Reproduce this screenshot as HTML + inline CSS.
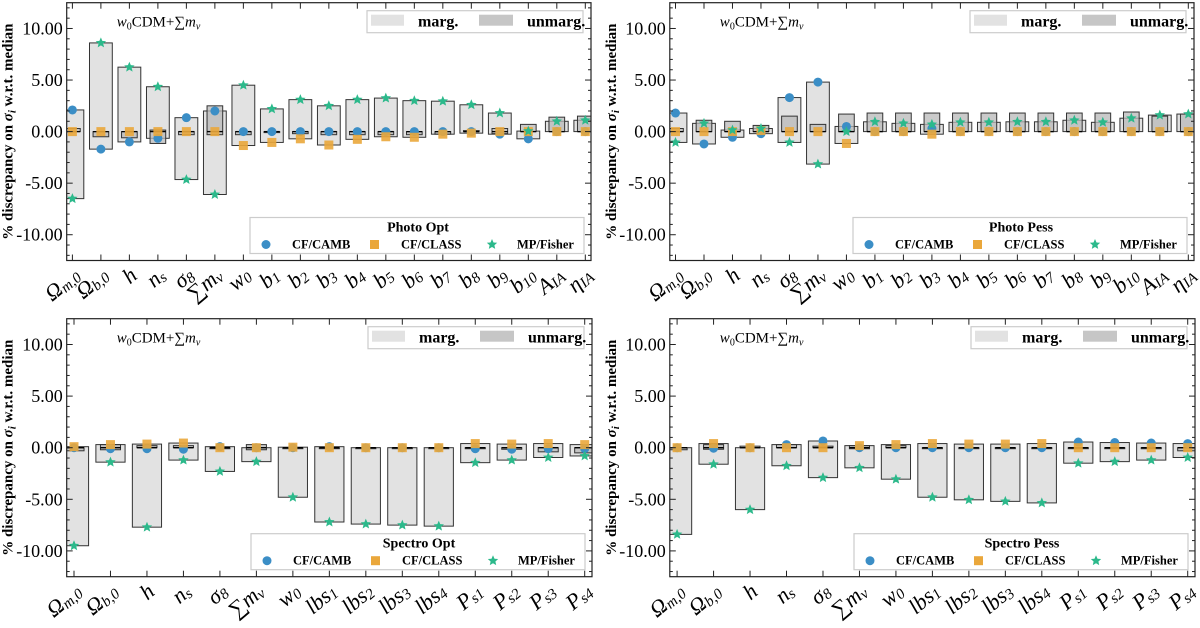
<!DOCTYPE html>
<html><head><meta charset="utf-8">
<style>
html,body{margin:0;padding:0;background:#fff;width:1200px;height:628px;overflow:hidden}
svg{display:block}
text{font-family:"Liberation Serif","DejaVu Serif",serif}
</style></head>
<body>
<svg id="chart" width="1200" height="628" viewBox="0 0 1200 628" xmlns="http://www.w3.org/2000/svg"></svg>
<script>
// ---------- data ----------
const photoCats = [["Ω","m,0"],["Ω","b,0"],["h",""],["n","s"],["σ","8"],["∑m","ν"],["w","0"],["b","1"],["b","2"],["b","3"],["b","4"],["b","5"],["b","6"],["b","7"],["b","8"],["b","9"],["b","10"],["A","IA"],["η","IA"]];
const spectroCats = [["Ω","m,0"],["Ω","b,0"],["h",""],["n","s"],["σ","8"],["∑m","ν"],["w","0"],["lbs","1"],["lbs","2"],["lbs","3"],["lbs","4"],["P","s1"],["P","s2"],["P","s3"],["P","s4"]];
const yTicks = [10, 5, 0, -5, -10];
const yTickLabels = ["10.00","5.00","0.00","-5.00","-10.00"];

// Photo Opt
const poCamb   = [2.1,-1.7,-1.0,-0.65,1.35,2.0,0,0,0,0,0,0,0,0,0,-0.25,-0.7,0,0];
const poClass  = [0,0,0,0,0,0,-1.35,-1.05,-0.7,-1.3,-0.75,-0.5,-0.55,-0.25,-0.15,0,0,0,0];
const poFisher = [-6.5,8.6,6.25,4.35,-4.65,-6.1,4.5,2.2,3.1,2.5,3.1,3.25,3.0,2.95,2.6,1.8,0.05,1.0,1.1];
const poUnHi   = [0.3,0,0,0.15,0,2.5,0,0,0,0,0,0,0,0,0.1,0.3,0.7,1.4,1.5];
const poUnLo   = [0,-0.5,-0.6,-1.15,-0.3,-0.3,-0.3,-0.05,-0.2,-0.3,-0.3,-0.3,-0.3,-0.25,0,-0.2,0,0,0];
// Photo Pess
const ppCamb   = [1.8,-1.2,-0.55,-0.2,3.3,4.8,0.5,0,0,0.3,0,0,0,0,0,0,0,0,0];
const ppClass  = [0,0,0,0.1,0,0,-1.15,0,0,-0.25,0,0,0,0,0,0,0,0,0];
const ppFisher = [-1.05,0.8,0.15,0.3,-1.05,-3.15,0,0.95,0.8,0.7,0.9,0.9,0.95,0.95,1.1,0.9,1.3,1.6,1.7];
const ppUnHi   = [0.3,1.1,1.0,0.6,1.5,0.7,1.7,1.8,1.8,1.8,1.8,1.8,1.8,1.8,1.8,1.8,1.9,1.5,1.7];
const ppUnLo   = [0,0,0,0,0,0,0,0,0,0,0,0,0,0,0,0,0,0,0];
// Spectro Opt
const soCamb   = [0,-0.1,-0.1,-0.15,0.1,0,0,0.1,0,0,0,-0.1,-0.15,-0.1,-0.1];
const soClass  = [0.1,0.3,0.35,0.45,0,0,0.05,0,0,0,0,0.4,0.35,0.4,0.3];
const soFisher = [-9.5,-1.4,-7.7,-1.2,-2.3,-1.35,-4.8,-7.2,-7.4,-7.5,-7.6,-1.45,-1.2,-0.95,-0.8];
const soUnHi   = [0,0.3,0.2,0.2,0,0.3,0,0,0,0,0,0,0,0,0];
const soUnLo   = [-0.3,-0.2,0,0,0,-0.2,0,0,0,0,0,-0.1,-0.15,-0.4,-0.5];
// Spectro Pess
const spCamb   = [0,-0.05,0,0.3,0.65,0,0,0,0,0,0,0.55,0.5,0.45,0.4];
const spClass  = [0,0.4,0,0,0,0.2,0.3,0.4,0.35,0.35,0.4,0,0,0,0];
const spFisher = [-8.4,-1.6,-6.0,-1.75,-2.9,-1.95,-3.05,-4.8,-5.05,-5.2,-5.35,-1.5,-1.35,-1.2,-0.95];
const spUnHi   = [0,0.3,0.15,0.3,0.15,0.2,0.2,0,0,0,0,0,0,0,0];
const spUnLo   = [-0.2,-0.15,0,0,0,-0.1,0,0,0,0,0,0,0,-0.1,-0.3];

const panels = [
  {key:"photo-opt", title:"Photo Opt", cats:photoCats, camb:poCamb, cls:poClass, fish:poFisher, uhi:poUnHi, ulo:poUnLo, x0:66.7, x1:591, y0:2.7, y1:260.5},
  {key:"photo-pess", title:"Photo Pess", cats:photoCats, camb:ppCamb, cls:ppClass, fish:ppFisher, uhi:ppUnHi, ulo:ppUnLo, x0:669.8, x1:1194, y0:2.7, y1:260.5},
  {key:"spectro-opt", title:"Spectro Opt", cats:spectroCats, camb:soCamb, cls:soClass, fish:soFisher, uhi:soUnHi, ulo:soUnLo, x0:66.7, x1:592, y0:318.7, y1:576.7},
  {key:"spectro-pess", title:"Spectro Pess", cats:spectroCats, camb:spCamb, cls:spClass, fish:spFisher, uhi:spUnHi, ulo:spUnLo, x0:669.8, x1:1195, y0:318.7, y1:576.7}
];

const NS = "http://www.w3.org/2000/svg";
const svg = document.getElementById("chart");
function mk(tag, attrs, parent){
  const e = document.createElementNS(NS, tag);
  for (const k in attrs) e.setAttribute(k, attrs[k]);
  (parent||svg).appendChild(e);
  return e;
}
function starPts(cx, cy, R){
  const r = R*0.45; let p=[];
  for(let i=0;i<10;i++){const a=-Math.PI/2+i*Math.PI/5;const rr=i%2?r:R;p.push((cx+rr*Math.cos(a)).toFixed(1)+","+(cy+rr*Math.sin(a)).toFixed(1));}
  return p.join(" ");
}
const C_CAMB="#3b8ec6", C_CLASS="#eaa73b", C_FISH="#2cb98b";

panels.forEach(P=>{
  const g = mk("g",{});
  
  
  const n = P.cats.length;
  const xmin=-0.2, xmax=(n-1)+0.2;
  const xs = i => P.x0 + (i - xmin)/(xmax - xmin)*(P.x1 - P.x0);
  const ys = v => P.y0 + (12.5 - v)/25*(P.y1 - P.y0);
  const step = xs(1)-xs(0);
  const clip = mk("clipPath",{id:"clip-"+P.key}, g);
  mk("rect",{x:P.x0,y:P.y0,width:P.x1-P.x0,height:P.y1-P.y0}, clip);
  const plot = mk("g",{"clip-path":"url(#clip-"+P.key+")"}, g);
  
  

  for(let i=0;i<n;i++){
    const cx = xs(i);
    const hi = Math.max(P.camb[i],P.cls[i],P.fish[i],0);
    const lo = Math.min(P.camb[i],P.cls[i],P.fish[i],0);
    const w = step*0.8;
    const mb = mk("rect",{x:cx-w/2,y:ys(hi),width:w,height:Math.max(ys(lo)-ys(hi),0.8),fill:"#e2e2e2",stroke:"#333","stroke-width":1}, plot);
    
    
    const uw = step*0.55;
    const uh = P.uhi[i], ul = P.ulo[i];
    const ub = mk("rect",{x:cx-uw/2,y:ys(uh),width:uw,height:Math.max(ys(ul)-ys(uh),1),fill:"#b8b8b8","fill-opacity":0.75,stroke:"#333","stroke-width":1}, plot);
    
    
    mk("line",{x1:cx-uw/2,x2:cx+uw/2,y1:ys(0),y2:ys(0),stroke:"#000","stroke-width":1.3}, plot);
  }
  for(let i=0;i<n;i++){
    const cx = xs(i);
    const c = mk("circle",{cx:cx,cy:ys(P.camb[i]),r:4.5,fill:C_CAMB}, plot);
    
    
    const s = mk("rect",{x:cx-4.5,y:ys(P.cls[i])-4.5,width:9,height:9,fill:C_CLASS,"fill-opacity":0.9}, plot);
    
    
    const st = mk("polygon",{points:starPts(cx,ys(P.fish[i]),5.5),fill:C_FISH}, plot);
    
    
  }
  const fr = mk("rect",{x:P.x0,y:P.y0,width:P.x1-P.x0,height:P.y1-P.y0,fill:"none",stroke:"#222","stroke-width":1.2}, g);
  
  
  yTicks.forEach((v,k)=>{
    const y = ys(v);
    mk("line",{x1:P.x0,x2:P.x0+6,y1:y,y2:y,stroke:"#222"}, g);
    mk("line",{x1:P.x1,x2:P.x1-6,y1:y,y2:y,stroke:"#222"}, g);
    const t = mk("text",{x:P.x0-4,y:y+6,"text-anchor":"end","font-size":18}, g);
    t.textContent = yTickLabels[k];
    
    
  });
  for(let v=-12; v<=12; v+=1){ if(v%5===0) continue;
    const y=ys(v);
    mk("line",{x1:P.x0,x2:P.x0+3,y1:y,y2:y,stroke:"#222"}, g);
    mk("line",{x1:P.x1,x2:P.x1-3,y1:y,y2:y,stroke:"#222"}, g);
  }
  const yc = (P.y0+P.y1)/2, yx = P.x0-54;
  const yt = mk("text",{x:yx,y:yc,"text-anchor":"middle","font-size":15,"font-weight":"bold",transform:`rotate(-90 ${yx} ${yc})`}, g);
  yt.innerHTML = '% discrepancy on <tspan font-style="italic">σ</tspan><tspan font-style="italic" font-size="11" dy="3">i</tspan><tspan dy="-3"> w.r.t. median</tspan>';
  
  
  for(let i=0;i<n;i++){
    const cx = xs(i);
    mk("line",{x1:cx,x2:cx,y1:P.y1,y2:P.y1-6,stroke:"#222"}, g);
    mk("line",{x1:cx,x2:cx,y1:P.y0,y2:P.y0+6,stroke:"#222"}, g);
    const lx = cx+9, ly = P.y1+17;
    const t = mk("text",{x:lx,y:ly,"text-anchor":"end","font-size":22,"font-style":"italic",transform:`rotate(-40 ${lx} ${ly})`}, g);
    t.innerHTML = P.cats[i][0] + (P.cats[i][1] ? `<tspan font-size="15" dy="2">${P.cats[i][1]}</tspan>` : "");
    
    
  }
  const an = mk("text",{x:P.x0+50,y:P.y0+24,"font-size":15}, g);
  an.innerHTML = '<tspan font-style="italic">w</tspan><tspan font-size="10" dy="3">0</tspan><tspan dy="-3">CDM+∑</tspan><tspan font-style="italic">m</tspan><tspan font-size="10" dy="3" font-style="italic">ν</tspan>';
  
  
  const lg = mk("g",{}, g);
  
  
  const lx0 = P.x1-224, ly0 = P.y0+8;
  mk("rect",{x:lx0,y:ly0,width:216,height:22,fill:"#fff",stroke:"#ccc","stroke-width":1.2}, lg);
  mk("rect",{x:lx0+4,y:ly0+4,width:33,height:11,fill:"#e2e2e2"}, lg);
  let t1 = mk("text",{x:lx0+51,y:ly0+16,"font-size":16,"font-weight":"bold"}, lg); t1.textContent="marg.";
  mk("rect",{x:lx0+112,y:ly0+4,width:34,height:11,fill:"#c6c6c6"}, lg);
  let t2 = mk("text",{x:lx0+160,y:ly0+16,"font-size":16,"font-weight":"bold"}, lg); t2.textContent="unmarg.";
  const bl = mk("g",{}, g);
  
  
  const bx0 = P.x1-341, by0 = P.y1-43;
  mk("rect",{x:bx0,y:by0,width:334,height:36,fill:"#fff",stroke:"#ccc","stroke-width":1.2}, bl);
  const tt = mk("text",{x:bx0+168,y:by0+14,"text-anchor":"middle","font-size":14,"font-weight":"bold"}, bl); tt.textContent=P.title;
  mk("circle",{cx:bx0+16,cy:by0+27,r:4.5,fill:C_CAMB}, bl);
  let e1 = mk("text",{x:bx0+42,y:by0+31,"font-size":12.5,"font-weight":"bold","font-family":"Liberation Mono, monospace"}, bl); e1.textContent="CF/CAMB";
  mk("rect",{x:bx0+120,y:by0+22.5,width:9,height:9,fill:C_CLASS}, bl);
  let e2 = mk("text",{x:bx0+151,y:by0+31,"font-size":12.5,"font-weight":"bold","font-family":"Liberation Mono, monospace"}, bl); e2.textContent="CF/CLASS";
  mk("polygon",{points:starPts(bx0+242,by0+27,5.5),fill:C_FISH}, bl);
  let e3 = mk("text",{x:bx0+267,y:by0+31,"font-size":12.5,"font-weight":"bold","font-family":"Liberation Mono, monospace"}, bl); e3.textContent="MP/Fisher";
});
</script>
</body></html>
